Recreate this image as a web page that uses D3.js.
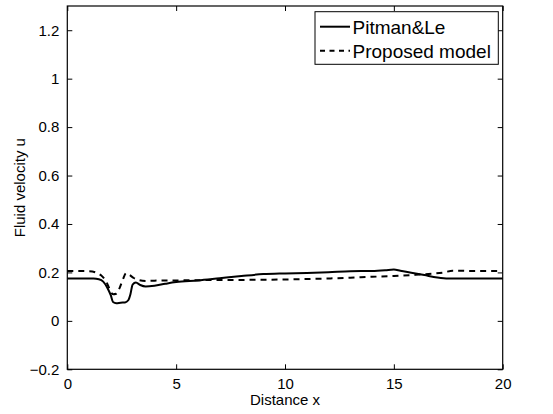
<!DOCTYPE html>
<html lang="en">
<head>
<meta charset="utf-8">
<title>Fluid velocity</title>
<script src="https://cdn.jsdelivr.net/npm/d3@7"></script>
<style>
  body { margin: 0; background: #fff; }
  text { font-family: "Liberation Sans", Arial, Helvetica, sans-serif; fill: #000; }
</style>
</head>
<body>
<script>
// data
var pitmanX = [0, 1.2, 1.45, 1.65, 1.85, 2.0, 2.1, 2.25, 2.45, 2.65, 2.8, 2.9, 3.0, 3.15, 3.35, 3.6, 4.0, 4.5, 5, 6, 7, 8, 9, 10, 11, 12, 13, 14, 14.6, 15.0, 15.3, 15.8, 16.4, 17.0, 17.5, 18, 20];
var pitmanU = [0.175, 0.175, 0.172, 0.162, 0.135, 0.105, 0.078, 0.073, 0.075, 0.076, 0.085, 0.11, 0.15, 0.158, 0.148, 0.142, 0.145, 0.153, 0.16, 0.167, 0.176, 0.185, 0.193, 0.196, 0.198, 0.201, 0.205, 0.206, 0.209, 0.212, 0.207, 0.199, 0.189, 0.179, 0.175, 0.175, 0.175];

var proposedX = [0, 1.0, 1.3, 1.55, 1.8, 1.95, 2.1, 2.25, 2.4, 2.55, 2.7, 2.85, 3.05, 3.3, 3.6, 4, 5, 6, 8, 10, 12, 13, 14, 15, 16, 16.8, 17.3, 17.7, 18.1, 18.6, 20];
var proposedU = [0.206, 0.205, 0.2, 0.188, 0.16, 0.13, 0.11, 0.112, 0.135, 0.17, 0.197, 0.19, 0.177, 0.168, 0.165, 0.166, 0.167, 0.168, 0.169, 0.171, 0.175, 0.178, 0.182, 0.185, 0.19, 0.195, 0.2, 0.207, 0.207, 0.206, 0.206];

var xTicks = [0, 5, 10, 15, 20];
var yTicks = [-0.2, 0, 0.2, 0.4, 0.6, 0.8, 1, 1.2];
var seriesNames = ["Pitman&Le", "Proposed model"];

var W = 553, H = 414;
var pLeft = 67.3, pRight = 502.7, pTop = 6, pBottom = 369.3;

var x = d3.scaleLinear().domain([0, 20]).range([pLeft, pRight]);
var y = d3.scaleLinear().domain([-0.2, 1.3]).range([pBottom, pTop]);

var svg = d3.select("body").append("svg")
  .attr("width", W)
  .attr("height", H);

var fmt = d3.format("");
var tickLen = 5;

// axes (MATLAB style box, ticks inward)
var gx = svg.append("g").attr("transform", "translate(0," + pBottom + ")")
  .call(d3.axisBottom(x).tickValues(xTicks).tickSize(-tickLen).tickPadding(9).tickFormat(fmt));
svg.append("g").attr("transform", "translate(0," + pTop + ")")
  .call(d3.axisTop(x).tickValues(xTicks).tickSize(-tickLen).tickFormat(""));
svg.append("g").attr("transform", "translate(" + pLeft + ",0)")
  .call(d3.axisLeft(y).tickValues(yTicks).tickSize(-tickLen).tickPadding(8).tickFormat(fmt));
svg.append("g").attr("transform", "translate(" + pRight + ",0)")
  .call(d3.axisRight(y).tickValues(yTicks).tickSize(-tickLen).tickFormat(""));

svg.selectAll(".domain").remove();
svg.selectAll(".tick line").attr("stroke", "#000").attr("stroke-width", 1);
svg.selectAll(".tick text").attr("font-size", "15px").attr("fill", "#000");

svg.append("rect")
  .attr("x", pLeft).attr("y", pTop)
  .attr("width", pRight - pLeft).attr("height", pBottom - pTop)
  .attr("fill", "none").attr("stroke", "#000").attr("stroke-width", 1.2);

// lines
var line = d3.line()
  .x(function(d) { return x(d[0]); })
  .y(function(d) { return y(d[1]); })
  .curve(d3.curveMonotoneX);

svg.append("path")
  .datum(d3.zip(pitmanX, pitmanU))
  .attr("d", line)
  .attr("fill", "none")
  .attr("stroke", "#000")
  .attr("stroke-width", 2);

svg.append("path")
  .datum(d3.zip(proposedX, proposedU))
  .attr("d", line)
  .attr("fill", "none")
  .attr("stroke", "#000")
  .attr("stroke-width", 2)
  .attr("stroke-dasharray", "6,5");

// axis labels
svg.append("text")
  .attr("x", (pLeft + pRight) / 2)
  .attr("y", 405)
  .attr("text-anchor", "middle")
  .attr("font-size", "15px")
  .text("Distance x");

svg.append("text")
  .attr("transform", "translate(25," + ((pTop + pBottom) / 2) + ") rotate(-90)")
  .attr("text-anchor", "middle")
  .attr("font-size", "15px")
  .text("Fluid velocity u");

// legend
var lg = svg.append("g");
lg.append("rect")
  .attr("x", 315).attr("y", 11.7)
  .attr("width", 183.3).attr("height", 52.6)
  .attr("fill", "#fff").attr("stroke", "#000").attr("stroke-width", 1);

var rows = [26.7, 50.7];
seriesNames.forEach(function(name, i) {
  lg.append("line")
    .attr("x1", 320).attr("x2", 350)
    .attr("y1", rows[i]).attr("y2", rows[i])
    .attr("stroke", "#000")
    .attr("stroke-width", 2)
    .attr("stroke-dasharray", i === 1 ? "5,4.5" : null);
  lg.append("text")
    .attr("x", 352.5)
    .attr("y", rows[i])
    .attr("dy", "0.36em")
    .attr("font-size", "19px")
    .text(name);
});
</script>
</body>
</html>
